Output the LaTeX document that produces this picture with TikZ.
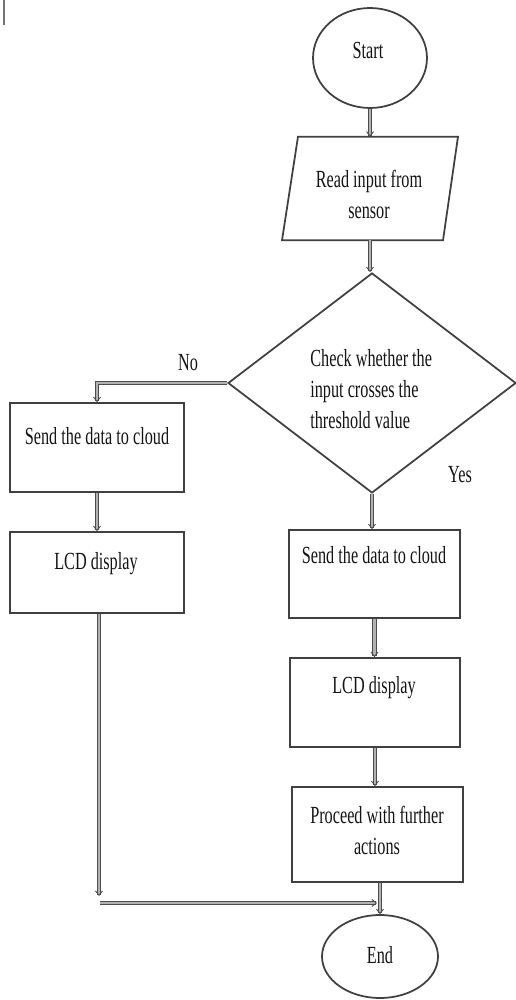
\documentclass[tikz,border=0pt]{standalone}
\usepackage{fontspec}
\setmainfont{Liberation Serif}[FakeStretch=0.66]
\usetikzlibrary{shapes.geometric,arrows.meta,calc}
\begin{document}
\begin{tikzpicture}[x=0.02cm,y=-0.02cm,
  outline/.style={draw=black!75,line width=1pt},
  boxshape/.style={outline,rectangle,inner sep=0pt},
  txt/.style={inner sep=0pt,text=black!92,align=center,anchor=north,
    font=\fontsize{14}{17.6}\selectfont},
  flow/.style={draw=black!70,line width=0.5pt,double=black!30,double distance=1.5pt,
    -{Straight Barb[length=2.5pt,width=4pt]}}]
\useasboundingbox (0,0) rectangle (515,1000);
% stray mark at top left
\coordinate (m1) at (4,0);
\coordinate (m2) at (4,25);
\draw[black!55,line width=1.1pt] (m1) -- (m2);
% shapes
\node[outline,ellipse,minimum width=2.28cm,minimum height=2.0cm,inner sep=0pt] (start) at (370,58) {};
\node[txt] (startt) at (368,42) {Start};
\node[inner sep=0pt,minimum width=3.52cm,minimum height=2.06cm] (read) at (370,188.5) {};
\draw[outline] ($(read.north)+(-72,0)$) -- ($(read.north)+(88,0)$) -- ($(read.south)+(73,0)$) -- ($(read.south)+(-88,0)$) -- cycle;
\node[txt] (readt) at (369,170) {Read input from\\sensor};
\node[outline,diamond,inner sep=0pt,minimum width=5.76cm,minimum height=4.4cm] (dia) at (372,383) {};
\node[txt,anchor=north west,align=left] (diat) at (310,349) {Check whether the\\input crosses the\\threshold value};
\node[txt] (no) at (188,354) {No};
\node[txt] (yes) at (460,466) {Yes};
\node[boxshape,minimum width=3.48cm,minimum height=1.78cm] (sendL) at (97,447.5) {};
\node[txt] (sendLt) at (97,427) {Send the data to cloud};
\node[boxshape,minimum width=3.48cm,minimum height=1.62cm] (lcdL) at (97,572.5) {};
\node[txt] (lcdLt) at (96,552) {LCD display};
\node[boxshape,minimum width=3.42cm,minimum height=1.76cm] (sendR) at (374.5,574) {};
\node[txt] (sendRt) at (374,546) {Send the data to cloud};
\node[boxshape,minimum width=3.4cm,minimum height=1.78cm] (lcdR) at (375,702.5) {};
\node[txt] (lcdRt) at (374,676) {LCD display};
\node[boxshape,minimum width=3.42cm,minimum height=1.9cm] (proc) at (377.5,834.5) {};
\node[txt] (proct) at (377,806) {Proceed with further\\actions};
\node[outline,ellipse,minimum width=2.32cm,minimum height=1.66cm,inner sep=0pt] (end) at (380,956.5) {};
\node[txt] (endt) at (380,946) {End};
% connectors
\draw[flow] (start.south) -- (read.north);
\draw[flow] (read.south) -- (read.south |- dia.north);
\draw[flow] (dia.west) -| (sendL.north);
\draw[flow] (dia.south) -- (dia.south |- sendR.north);
\draw[flow] (sendL.south) -- (lcdL.north);
\draw[flow] (sendR.south) -- (sendR.south |- lcdR.north);
\draw[flow] (lcdR.south) -- (lcdR.south |- proc.north);
\draw[flow] (end.north |- proc.south) -- (end.north);
\coordinate (corner) at (99,896);
\coordinate (hstart) at (100,903);
\coordinate (join) at (377,903);
\draw[flow] (lcdL.south -| corner) -- (corner);
\draw[flow] (hstart) -- (join);
\end{tikzpicture}
\end{document}
